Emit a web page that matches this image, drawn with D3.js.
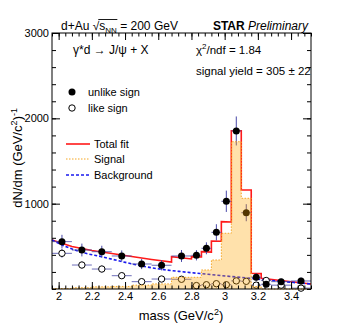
<!DOCTYPE html>
<html lang="en">
<head>
<meta charset="utf-8">
<title>J/psi mass</title>
<script src="https://d3js.org/d3.v7.min.js"></script>
<style>
  body { margin: 0; background: #fff; }
  text { font-family: "Liberation Sans", Arial, sans-serif; fill: #000; }
</style>
</head>
<body>
<script>
// histogram bin edges (GeV/c^2)
var binEdges = [1.96, 2.08, 2.20, 2.32, 2.44, 2.56, 2.68, 2.80, 2.86, 2.92, 2.98, 3.04, 3.10, 3.16, 3.22, 3.28, 3.40, 3.52];

// unlike sign pairs
var unlikeVals = [555, 457, 437, 387, 293, 278, 387, 395, 477, 664, 1028, 1852, 894, 137, 55, 86, 94];
var unlikeErrs = [80, 75, 70, 65, 60, 60, 70, 60, 70, 95, 125, 170, 100, 45, 35, 35, 40];

// like sign pairs
var likeVals = [418, 281, 234, 156, 86, 117, 114, 40, 50, 62, 50, 95, 90, 45, 100, 45, 10];
var likeErrs = [50, 40, 40, 35, 30, 30, 30, 20, 20, 25, 20, 30, 30, 20, 30, 20, 15];

// signal template per bin
var signalVals = [5, 15, 25, 30, 45, 60, 137, 137, 223, 340, 653, 1726, 1063, 30, 0, 0, 0];

// background fit
var bgMass = [1.96, 2.04, 2.14, 2.26, 2.38, 2.50, 2.62, 2.74, 2.90, 3.10, 3.30, 3.52];
var bgVals = [574, 500, 430, 378, 322, 270, 231, 203, 172, 135, 97, 59];

// total fit (steps at bin edges)
var fitMass = [1.96, 2.08, 2.20, 2.32, 2.44, 2.56, 2.68, 2.68, 2.80, 2.80, 2.86, 2.86, 2.92, 2.92, 2.98, 2.98, 3.04, 3.04, 3.10, 3.10, 3.16, 3.16, 3.22, 3.22, 3.52];
var fitVals = [574, 498, 451, 416, 381, 346, 316, 379, 352, 379, 375, 437, 432, 563, 560, 789, 785, 1855, 1855, 1160, 1160, 184, 180, 125, 59];

var xTicks = [2, 2.2, 2.4, 2.6, 2.8, 3, 3.2, 3.4];
var yTicks = [1000, 2000, 3000];

var w = 346, h = 333;
var L = 52, R = 311, T = 33, B = 289;

var svg = d3.select("body").append("svg")
  .attr("width", w)
  .attr("height", h);

var x = d3.scaleLinear().domain([1.96, 3.52]).range([L, R]);
var y = d3.scaleLinear().domain([0, 3000]).range([B, T]);

var bins = d3.range(binEdges.length - 1).map(function(i) {
  return { lo: binEdges[i], hi: binEdges[i + 1], mid: (binEdges[i] + binEdges[i + 1]) / 2,
           u: unlikeVals[i], ue: unlikeErrs[i], l: likeVals[i], le: likeErrs[i], s: signalVals[i] };
});

var plot = svg.append("g");

// red total fit
plot.append("path")
  .attr("d", d3.line().x(function(d) { return x(d[0]); }).y(function(d) { return y(d[1]); })(d3.zip(fitMass, fitVals)))
  .attr("fill", "none").attr("stroke", "#ff1a1a").attr("stroke-width", 1.6);

// blue background
plot.append("path")
  .attr("d", d3.line().curve(d3.curveMonotoneX).x(function(d) { return x(d[0]); }).y(function(d) { return y(d[1]); })(d3.zip(bgMass, bgVals)))
  .attr("fill", "none").attr("stroke", "#1a1aee").attr("stroke-width", 1.6).attr("stroke-dasharray", "3,2");

// error bars
function errBars(key, ekey) {
  var g = plot.append("g").attr("stroke", "#4848a8").attr("stroke-width", 1);
  g.selectAll("line.h").data(bins).enter().append("line")
    .attr("x1", function(d) { return x(d.lo); }).attr("x2", function(d) { return x(d.hi); })
    .attr("y1", function(d) { return y(d[key]); }).attr("y2", function(d) { return y(d[key]); })
    .attr("stroke-opacity", 0.8);
  g.selectAll("line.v").data(bins).enter().append("line")
    .attr("x1", function(d) { return x(d.mid); }).attr("x2", function(d) { return x(d.mid); })
    .attr("y1", function(d) { return y(Math.max(0, d[key] - d[ekey])); })
    .attr("y2", function(d) { return y(d[key] + d[ekey]); });
}
errBars("l", "le");
errBars("u", "ue");

plot.selectAll("circle.like").data(bins).enter().append("circle")
  .attr("cx", function(d) { return x(d.mid); }).attr("cy", function(d) { return y(d.l); })
  .attr("r", 3.2).attr("fill", "#fff").attr("stroke", "#000").attr("stroke-width", 1);

plot.selectAll("circle.unlike").data(bins).enter().append("circle")
  .attr("cx", function(d) { return x(d.mid); }).attr("cy", function(d) { return y(d.u); })
  .attr("r", 3.5).attr("fill", "#000");

// signal histogram (filled, translucent, over the points)
var stepPts = bins.map(function(d) { return [d.lo, d.s]; });
stepPts.push([binEdges[binEdges.length - 1], 0]);
plot.append("path")
  .attr("d", d3.area().curve(d3.curveStepAfter)
    .x(function(d) { return x(d[0]); }).y0(y(0)).y1(function(d) { return y(d[1]); })(stepPts))
  .attr("fill", "rgba(255,165,0,0.33)");
plot.append("path")
  .attr("d", d3.line().curve(d3.curveStepAfter)
    .x(function(d) { return x(d[0]); }).y(function(d) { return y(d[1]); })(stepPts))
  .attr("fill", "none").attr("stroke", "#f5a623").attr("stroke-width", 1).attr("stroke-dasharray", "1.5,1.5");

// axes with inward ticks
function minorRange(a, b, s) { return d3.range(Math.round((b - a) / s) + 1).map(function(i) { return +(a + i * s).toFixed(3); }); }
var xMinor = minorRange(1.96, 3.52, 0.04);
var yMinor = minorRange(0, 3000, 200);

function axisG(ax, tx, ty) {
  var g = svg.append("g").attr("transform", "translate(" + tx + "," + ty + ")").call(ax);
  g.select(".domain").remove();
  g.selectAll("line").attr("stroke", "#000");
  return g;
}
axisG(d3.axisBottom(x).tickValues(xMinor).tickSize(-3.5).tickFormat(""), 0, B);
axisG(d3.axisBottom(x).tickValues(xTicks).tickSize(-7).tickPadding(3).tickFormat(d3.format("~g")), 0, B)
  .selectAll("text").attr("font-size", 11).attr("font-family", "Liberation Sans, Arial, sans-serif");
axisG(d3.axisTop(x).tickValues(xMinor).tickSize(-3.5).tickFormat(""), 0, T);
axisG(d3.axisTop(x).tickValues(xTicks).tickSize(-7).tickFormat(""), 0, T);
axisG(d3.axisLeft(y).tickValues(yMinor).tickSize(-4).tickFormat(""), L, 0);
axisG(d3.axisLeft(y).tickValues(yTicks).tickSize(-8).tickPadding(3).tickFormat(d3.format("d")), L, 0)
  .selectAll("text").attr("font-size", 11).attr("font-family", "Liberation Sans, Arial, sans-serif");
axisG(d3.axisRight(y).tickValues(yMinor).tickSize(-4).tickFormat(""), R, 0);
axisG(d3.axisRight(y).tickValues(yTicks).tickSize(-8).tickFormat(""), R, 0);

svg.append("rect").attr("x", L).attr("y", T).attr("width", R - L).attr("height", B - T)
  .attr("fill", "none").attr("stroke", "#000").attr("stroke-width", 1);

// titles
var t1 = svg.append("text").attr("x", 61).attr("y", 29.5).attr("font-size", 12);
t1.append("tspan").text("d+Au \u221A");
var sT = t1.append("tspan").text("s");
var nnT = t1.append("tspan").attr("font-size", 8).attr("dy", 3).text("NN");
t1.append("tspan").attr("dy", -3).text(" = 200 GeV");
var sx0 = sT.node().getStartPositionOfChar(0).x;
var sx1 = nnT.node().getEndPositionOfChar(1).x;
svg.append("line").attr("x1", sx0 - 1).attr("x2", sx1 + 0.5).attr("y1", 19.5).attr("y2", 19.5)
  .attr("stroke", "#000").attr("stroke-width", 0.9);

var t2 = svg.append("text").attr("x", 308).attr("y", 29.5).attr("font-size", 12).attr("text-anchor", "end");
t2.append("tspan").attr("font-weight", "bold").text("STAR ");
t2.append("tspan").attr("font-style", "italic").text("Preliminary");

svg.append("text").attr("x", 73).attr("y", 54).attr("font-size", 12).text("\u03B3*d \u2192 J/\u03C8 + X");

var t3 = svg.append("text").attr("x", 196).attr("y", 54).attr("font-size", 11.5);
t3.append("tspan").text("\u03C7");
t3.append("tspan").attr("font-size", 8).attr("dy", -5).text("2");
t3.append("tspan").attr("dy", 5).text("/ndf = 1.84");
svg.append("text").attr("x", 196).attr("y", 75).attr("font-size", 11.5).text("signal yield = 305 \u00B1 22");

// legend
svg.append("circle").attr("cx", 72).attr("cy", 92).attr("r", 3.5).attr("fill", "#000");
svg.append("text").attr("x", 88).attr("y", 96).attr("font-size", 11).text("unlike sign");
svg.append("circle").attr("cx", 72).attr("cy", 108).attr("r", 3.2).attr("fill", "#fff").attr("stroke", "#000");
svg.append("text").attr("x", 88).attr("y", 112).attr("font-size", 11).text("like sign");

var legLines = [
  { y: 144, label: "Total fit", stroke: "#ff1a1a", dash: null, w: 1.6 },
  { y: 159, label: "Signal", stroke: "#f5a623", dash: "1.5,1.5", w: 1 },
  { y: 175, label: "Background", stroke: "#1a1aee", dash: "3,2", w: 1.6 }
];
legLines.forEach(function(d) {
  svg.append("line").attr("x1", 66).attr("x2", 90).attr("y1", d.y).attr("y2", d.y)
    .attr("stroke", d.stroke).attr("stroke-width", d.w).attr("stroke-dasharray", d.dash);
  svg.append("text").attr("x", 94).attr("y", d.y + 4).attr("font-size", 11).text(d.label);
});

// axis titles
var xt = svg.append("text").attr("x", 181).attr("y", 320).attr("font-size", 13).attr("text-anchor", "middle");
xt.append("tspan").text("mass (GeV/c");
xt.append("tspan").attr("font-size", 9).attr("dy", -5).text("2");
xt.append("tspan").attr("dy", 5).text(")");

var yt = svg.append("text").attr("transform", "translate(22,108) rotate(-90)").attr("font-size", 13).attr("text-anchor", "end");
yt.append("tspan").text("dN/dm (GeV/c");
yt.append("tspan").attr("font-size", 9).attr("dy", -5).text("2");
yt.append("tspan").attr("dy", 5).text(")");
yt.append("tspan").attr("font-size", 9).attr("dy", -5).text("-1");
</script>
</body>
</html>
